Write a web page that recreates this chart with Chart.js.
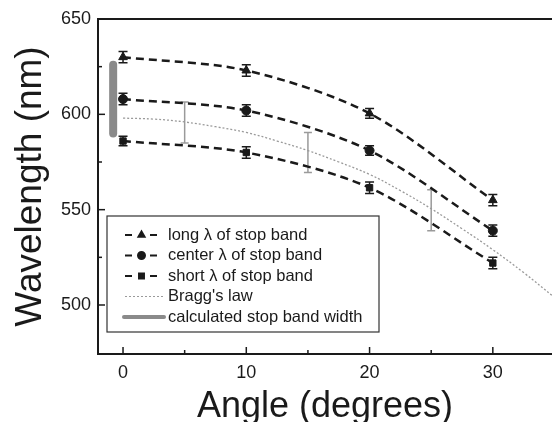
<!DOCTYPE html>
<html>
<head>
<meta charset="utf-8">
<script src="https://cdn.jsdelivr.net/npm/chart.js@4.4.1/dist/chart.umd.min.js"></script>
<style>
  body { margin: 0; background: #fff; }
  #wrap { width: 552px; height: 422px; }
</style>
</head>
<body>
<div id="wrap"><canvas id="chart" width="552" height="422"></canvas></div>
<script>
// measured stop band edges (nm) vs angle (degrees)
const angles = [0, 10, 20, 30];
const longLambda = [630, 623, 600.5, 555];
const centerLambda = [608, 602, 581, 539];
const shortLambda = [586, 580, 561.5, 522];
const longErr = [3, 3, 2.5, 3];
const centerErr = [3, 3, 2.5, 3];
const shortErr = [2.5, 3, 3, 3];

// Bragg's law curve
const braggAngles = [0, 2.5, 5, 7.5, 10, 12.5, 15, 17.5, 20, 22.5, 25, 27.5, 30, 32.5, 35];
const braggLambda = [598, 597.5, 596, 593.5, 590.5, 586, 581, 575, 568.5, 560, 550.5, 540, 529, 517, 504];
const braggBarAngles = [5, 15, 25];
const braggBarLow = [585, 569.5, 539];
const braggBarHigh = [606.5, 590.5, 560.5];

// calculated stop band width (thick grey bar)
const widthAngle = [-0.8, -0.8];
const widthRange = [590, 626];

const xTicks = [0, 10, 20, 30];
const xMinorTicks = [5, 15, 25];
const yTicks = [500, 550, 600, 650];
const yMinorTicks = [525, 575, 625];

const legendLabels = ['long \u03bb of stop band', 'center \u03bb of stop band', 'short \u03bb of stop band', "Bragg's law", 'calculated stop band width'];

const FONT = '"Liberation Sans", Arial, sans-serif';
const INK = '#1a1a1a';

function pts(xs, ys) {
    return xs.map((x, i) => ({ x: x, y: ys[i] }));
}

function markerSeries(label, ys, style, radius) {
    return {
        label: label,
        data: pts(angles, ys),
        borderColor: INK,
        backgroundColor: INK,
        borderWidth: 2.5,
        borderDash: [8, 5],
        tension: 0.3,
        pointStyle: style,
        pointRadius: radius,
        pointBorderWidth: 1,
        pointHoverRadius: radius
    };
}

const extras = {
    id: 'extras',
    beforeDatasetsDraw(chart) {
        const { ctx, scales: { x, y } } = chart;
        // grey error bars on the Bragg curve
        ctx.save();
        ctx.strokeStyle = '#9a9a9a';
        ctx.lineWidth = 1.5;
        braggBarAngles.forEach((a, i) => {
            const px = x.getPixelForValue(a);
            const top = y.getPixelForValue(braggBarHigh[i]);
            const bot = y.getPixelForValue(braggBarLow[i]);
            ctx.beginPath();
            ctx.moveTo(px, top); ctx.lineTo(px, bot);
            ctx.moveTo(px - 4, top); ctx.lineTo(px + 4, top);
            ctx.moveTo(px - 4, bot); ctx.lineTo(px + 4, bot);
            ctx.stroke();
        });
        ctx.restore();
    },
    afterDatasetsDraw(chart) {
        const { ctx, scales: { x, y } } = chart;
        ctx.save();
        ctx.strokeStyle = INK;
        ctx.lineWidth = 1.5;
        [[longLambda, longErr], [centerLambda, centerErr], [shortLambda, shortErr]].forEach(([vals, errs]) => {
            vals.forEach((v, i) => {
                const px = x.getPixelForValue(angles[i]);
                const top = y.getPixelForValue(v + errs[i]);
                const bot = y.getPixelForValue(v - errs[i]);
                ctx.beginPath();
                ctx.moveTo(px, top); ctx.lineTo(px, bot);
                ctx.moveTo(px - 4.5, top); ctx.lineTo(px + 4.5, top);
                ctx.moveTo(px - 4.5, bot); ctx.lineTo(px + 4.5, bot);
                ctx.stroke();
            });
        });
        ctx.restore();
    },
    afterDraw(chart) {
        const { ctx, chartArea, scales: { x, y } } = chart;
        ctx.save();
        ctx.strokeStyle = INK;
        // top frame line
        ctx.lineWidth = 2;
        ctx.beginPath();
        ctx.moveTo(chartArea.left, chartArea.top);
        ctx.lineTo(chartArea.right, chartArea.top);
        ctx.stroke();
        // inward tick marks
        ctx.lineWidth = 1.5;
        const b = chartArea.bottom, l = chartArea.left;
        xTicks.concat(xMinorTicks).forEach(v => {
            const len = xTicks.includes(v) ? 7 : 4;
            const px = x.getPixelForValue(v);
            ctx.beginPath(); ctx.moveTo(px, b); ctx.lineTo(px, b - len); ctx.stroke();
        });
        yTicks.concat(yMinorTicks).forEach(v => {
            const len = yTicks.includes(v) ? 7 : 4;
            const py = y.getPixelForValue(v);
            ctx.beginPath(); ctx.moveTo(l, py); ctx.lineTo(l + len, py); ctx.stroke();
        });

        // legend
        const bx = 107, by = 216, bw = 272, bh = 116;
        ctx.fillStyle = '#fff';
        ctx.fillRect(bx, by, bw, bh);
        ctx.lineWidth = 1.2;
        ctx.strokeStyle = '#333';
        ctx.strokeRect(bx, by, bw, bh);
        ctx.font = '16.5px ' + FONT;
        ctx.textBaseline = 'middle';
        ctx.fillStyle = INK;
        const styles = ['triangle', 'circle', 'rect'];
        legendLabels.forEach((txt, i) => {
            const ry = 235 + i * 20.5;
            ctx.save();
            if (i < 3) {
                ctx.strokeStyle = INK;
                ctx.lineWidth = 2;
                ctx.beginPath();
                ctx.moveTo(125, ry); ctx.lineTo(132, ry);
                ctx.moveTo(150, ry); ctx.lineTo(157, ry);
                ctx.stroke();
                ctx.fillStyle = INK;
                Chart.helpers.drawPoint(ctx, { pointStyle: styles[i], radius: 3.5, borderWidth: 1 }, 141.5, ry);
            } else if (i === 3) {
                ctx.strokeStyle = '#9a9a9a';
                ctx.lineWidth = 1.2;
                ctx.setLineDash([2, 2]);
                ctx.beginPath(); ctx.moveTo(125, ry); ctx.lineTo(163, ry); ctx.stroke();
            } else {
                ctx.strokeStyle = '#8a8a8a';
                ctx.lineWidth = 4;
                ctx.lineCap = 'round';
                ctx.beginPath(); ctx.moveTo(124, ry); ctx.lineTo(164, ry); ctx.stroke();
            }
            ctx.restore();
            ctx.fillText(txt, 168, ry);
        });
        ctx.restore();
    }
};

new Chart(document.getElementById('chart'), {
    type: 'line',
    data: {
        datasets: [
            markerSeries(legendLabels[0], longLambda, 'triangle', 5),
            markerSeries(legendLabels[1], centerLambda, 'circle', 4.5),
            markerSeries(legendLabels[2], shortLambda, 'rect', 4.5),
            {
                label: legendLabels[3],
                data: pts(braggAngles, braggLambda),
                borderColor: '#9a9a9a',
                borderWidth: 1.3,
                borderDash: [2, 2],
                tension: 0.4,
                pointRadius: 0
            },
            {
                label: legendLabels[4],
                data: pts(widthAngle, widthRange),
                borderColor: '#8a8a8a',
                borderWidth: 8,
                borderCapStyle: 'round',
                pointRadius: 0
            }
        ]
    },
    options: {
        responsive: false,
        animation: false,
        events: [],
        layout: { autoPadding: false, padding: { top: 19, right: 0, left: 0, bottom: 0 } },
        plugins: {
            legend: { display: false },
            tooltip: { enabled: false }
        },
        scales: {
            x: {
                type: 'linear',
                min: -2.03,
                max: 34.8,
                afterBuildTicks: s => { s.ticks = xTicks.map(v => ({ value: v })); },
                afterFit: s => { s.height = 68; },
                grid: { display: false, drawTicks: false },
                border: { color: INK, width: 2 },
                ticks: { padding: 8, color: INK, font: { family: FONT, size: 18 } },
                title: {
                    display: true,
                    text: 'Angle (degrees)',
                    color: INK,
                    font: { family: FONT, size: 36, lineHeight: 0.8 },
                    padding: { top: 0, bottom: 0.6 }
                }
            },
            y: {
                type: 'linear',
                min: 474.3,
                max: 650,
                afterBuildTicks: s => { s.ticks = yTicks.map(v => ({ value: v })); },
                afterFit: s => { s.width = 98; },
                grid: { display: false, drawTicks: false },
                border: { color: INK, width: 2 },
                ticks: { padding: 7, color: INK, font: { family: FONT, size: 18 } },
                title: {
                    display: true,
                    text: 'Wavelength (nm)',
                    color: INK,
                    font: { family: FONT, size: 37, lineHeight: 1 },
                    padding: { top: 12, bottom: 0 }
                }
            }
        }
    },
    plugins: [extras]
});
</script>
</body>
</html>
